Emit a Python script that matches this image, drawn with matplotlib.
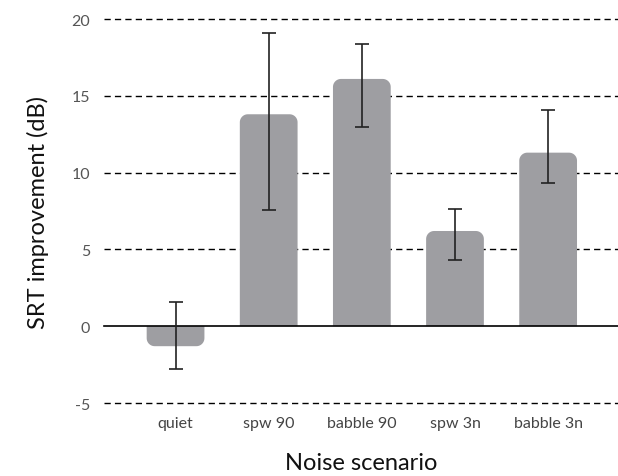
import numpy as np
import matplotlib
matplotlib.use('Agg')
import matplotlib.pyplot as plt
from matplotlib.patches import Polygon

plt.rcParams['font.family'] = ['Lato', 'DejaVu Sans']

scenarios = ['quiet', 'spw 90', 'babble 90', 'spw 3n', 'babble 3n']
srt_gain = [-1.3, 13.8, 16.1, 6.2, 11.3]
err_low = [-2.8, 7.55, 13.0, 4.3, 9.3]
err_high = [1.6, 19.1, 18.4, 7.6, 14.1]
yticks = [-5, 0, 5, 10, 15, 20]

bar_color = '#9e9ea2'
width = 0.62

fig = plt.figure(figsize=(6.18, 4.77), dpi=100)
ax = fig.add_axes([0.168, 0.153, 0.832, 0.805])
ax.set_xlim(-0.77, 4.75)
ax.set_ylim(-5, 20)

# data units per pixel on each axis, so corners come out round
px_x = 5.52 / (0.832 * 618)
px_y = 25.0 / (0.805 * 477)
r_px = 8


def rounded_bar(xc, v):
    """bar from 0 to v with the two far corners rounded"""
    rx, ry = r_px * px_x, r_px * px_y
    s = 1 if v >= 0 else -1
    ry = min(ry, abs(v))
    x0, x1 = xc - width / 2, xc + width / 2
    t = np.linspace(0, np.pi / 2, 12)
    pts = [(x0, 0)]
    # left corner
    pts += [(x0 + rx - rx * np.cos(a), v - s * ry + s * ry * np.sin(a)) for a in t]
    # right corner
    pts += [(x1 - rx + rx * np.sin(a), v - s * ry + s * ry * np.cos(a)) for a in t]
    pts += [(x1, 0)]
    return Polygon(pts, closed=True, fc=bar_color, ec='none', zorder=2)


for y in yticks:
    if y == 0:
        ax.axhline(y, color='black', lw=1.2, zorder=3, clip_on=False)
    else:
        ax.axhline(y, color='black', lw=1.0, ls=(0, (4.5, 3)), zorder=1, clip_on=False)

x = np.arange(len(scenarios))
for xi, v in zip(x, srt_gain):
    ax.add_patch(rounded_bar(xi, v))

yerr = [np.array(srt_gain) - np.array(err_low), np.array(err_high) - np.array(srt_gain)]
ax.errorbar(x, srt_gain, yerr=yerr, fmt='none', ecolor='#222222',
            elinewidth=1.2, capsize=5, capthick=1.2, zorder=4)

for s in ax.spines.values():
    s.set_visible(False)
ax.set_xticks(x)
ax.set_xticklabels(scenarios, fontsize=11.5, color='#444444')
ax.set_yticks(yticks)
ax.set_yticklabels([str(t) for t in yticks], fontsize=11.5, color='#555555')
ax.tick_params(length=0, pad=10)
ax.tick_params(axis='x', pad=9)

ax.set_ylabel('SRT improvement (dB)', fontsize=17, color='#111111', labelpad=16)
ax.set_xlabel('Noise scenario', fontsize=17, color='#111111', labelpad=16)

fig.savefig('out.png', dpi=100)
